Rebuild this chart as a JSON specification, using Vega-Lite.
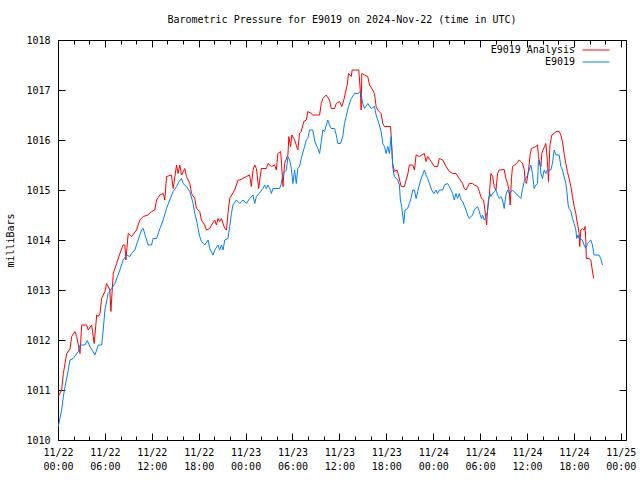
{
"$schema": "https://vega.github.io/schema/vega-lite/v6.json",
"width": 568, "height": 400,
"autosize": "none",
"padding": {"left": 58, "top": 40, "right": 14, "bottom": 40},
"background": "white",
"title": {"text": "Barometric Pressure for E9019 on 2024-Nov-22 (time in UTC)", "font": "DejaVu Sans Mono", "fontSize": 10, "fontWeight": "normal", "color": "black", "offset": 10, "anchor": "middle"},
"config": {
  "view": {"stroke": "black", "strokeWidth": 1},
  "font": "DejaVu Sans Mono",
  "axis": {"domain": false, "grid": false, "labelFont": "DejaVu Sans Mono", "labelFontSize": 10, "labelColor": "black", "tickColor": "black", "tickWidth": 1, "titleFont": "DejaVu Sans Mono", "titleFontSize": 10, "titleFontWeight": "normal", "titleColor": "black"}
},
"datasets": {
"analysis": [
{"t":"2024-11-22T00:02Z","p":1010.87},{"t":"2024-11-22T00:28Z","p":1011.0},{"t":"2024-11-22T00:41Z","p":1011.33},{"t":"2024-11-22T01:07Z","p":1011.73},{"t":"2024-11-22T01:32Z","p":1011.82},{"t":"2024-11-22T01:45Z","p":1012.07},{"t":"2024-11-22T02:10Z","p":1012.17},{"t":"2024-11-22T02:23Z","p":1012.07},{"t":"2024-11-22T02:49Z","p":1011.73},{"t":"2024-11-22T03:02Z","p":1012.3},{"t":"2024-11-22T03:40Z","p":1012.3},{"t":"2024-11-22T03:52Z","p":1012.2},{"t":"2024-11-22T04:18Z","p":1012.3},{"t":"2024-11-22T04:38Z","p":1011.93},{"t":"2024-11-22T04:57Z","p":1012.5},{"t":"2024-11-22T05:09Z","p":1012.47},{"t":"2024-11-22T05:22Z","p":1012.53},{"t":"2024-11-22T05:35Z","p":1012.83},{"t":"2024-11-22T06:00Z","p":1012.97},{"t":"2024-11-22T06:13Z","p":1013.13},{"t":"2024-11-22T06:38Z","p":1013.0},{"t":"2024-11-22T06:46Z","p":1012.57},{"t":"2024-11-22T07:04Z","p":1013.33},{"t":"2024-11-22T07:30Z","p":1013.53},{"t":"2024-11-22T07:55Z","p":1013.73},{"t":"2024-11-22T08:20Z","p":1013.9},{"t":"2024-11-22T08:33Z","p":1013.9},{"t":"2024-11-22T08:41Z","p":1013.6},{"t":"2024-11-22T08:59Z","p":1014.13},{"t":"2024-11-22T09:25Z","p":1014.07},{"t":"2024-11-22T10:03Z","p":1014.2},{"t":"2024-11-22T10:28Z","p":1014.4},{"t":"2024-11-22T10:54Z","p":1014.47},{"t":"2024-11-22T11:32Z","p":1014.5},{"t":"2024-11-22T11:58Z","p":1014.57},{"t":"2024-11-22T12:23Z","p":1014.6},{"t":"2024-11-22T12:36Z","p":1014.8},{"t":"2024-11-22T13:02Z","p":1014.9},{"t":"2024-11-22T13:27Z","p":1014.93},{"t":"2024-11-22T13:40Z","p":1014.8},{"t":"2024-11-22T13:53Z","p":1015.27},{"t":"2024-11-22T14:31Z","p":1015.3},{"t":"2024-11-22T14:44Z","p":1015.03},{"t":"2024-11-22T15:10Z","p":1015.5},{"t":"2024-11-22T15:22Z","p":1015.33},{"t":"2024-11-22T15:35Z","p":1015.5},{"t":"2024-11-22T15:48Z","p":1015.3},{"t":"2024-11-22T16:13Z","p":1015.43},{"t":"2024-11-22T16:26Z","p":1015.27},{"t":"2024-11-22T16:52Z","p":1015.13},{"t":"2024-11-22T17:05Z","p":1014.93},{"t":"2024-11-22T17:30Z","p":1014.83},{"t":"2024-11-22T17:43Z","p":1014.63},{"t":"2024-11-22T18:08Z","p":1014.57},{"t":"2024-11-22T18:21Z","p":1014.4},{"t":"2024-11-22T18:46Z","p":1014.3},{"t":"2024-11-22T18:59Z","p":1014.2},{"t":"2024-11-22T19:25Z","p":1014.23},{"t":"2024-11-22T19:38Z","p":1014.3},{"t":"2024-11-22T20:03Z","p":1014.4},{"t":"2024-11-22T20:16Z","p":1014.3},{"t":"2024-11-22T20:28Z","p":1014.43},{"t":"2024-11-22T20:41Z","p":1014.37},{"t":"2024-11-22T20:54Z","p":1014.43},{"t":"2024-11-22T21:20Z","p":1014.23},{"t":"2024-11-22T21:33Z","p":1014.2},{"t":"2024-11-22T21:45Z","p":1014.53},{"t":"2024-11-22T21:58Z","p":1014.83},{"t":"2024-11-22T22:36Z","p":1015.0},{"t":"2024-11-22T22:49Z","p":1015.1},{"t":"2024-11-22T23:02Z","p":1015.2},{"t":"2024-11-22T23:15Z","p":1015.2},
{"t":"2024-11-23T00:06Z","p":1015.27},{"t":"2024-11-23T00:31Z","p":1015.3},{"t":"2024-11-23T00:44Z","p":1015.07},{"t":"2024-11-23T00:57Z","p":1015.4},{"t":"2024-11-23T01:10Z","p":1015.5},{"t":"2024-11-23T01:23Z","p":1015.43},{"t":"2024-11-23T01:40Z","p":1015.03},{"t":"2024-11-23T02:01Z","p":1015.43},{"t":"2024-11-23T02:39Z","p":1015.43},{"t":"2024-11-23T02:52Z","p":1015.53},{"t":"2024-11-23T03:18Z","p":1015.47},{"t":"2024-11-23T03:43Z","p":1015.5},{"t":"2024-11-23T03:56Z","p":1015.4},{"t":"2024-11-23T04:08Z","p":1015.73},{"t":"2024-11-23T04:29Z","p":1015.77},{"t":"2024-11-23T04:34Z","p":1015.6},{"t":"2024-11-23T04:47Z","p":1015.07},{"t":"2024-11-23T04:59Z","p":1015.53},{"t":"2024-11-23T05:25Z","p":1015.7},{"t":"2024-11-23T05:32Z","p":1016.07},{"t":"2024-11-23T05:45Z","p":1015.87},{"t":"2024-11-23T05:55Z","p":1016.1},{"t":"2024-11-23T06:16Z","p":1016.0},{"t":"2024-11-23T06:41Z","p":1015.8},{"t":"2024-11-23T06:54Z","p":1016.13},{"t":"2024-11-23T07:07Z","p":1016.17},{"t":"2024-11-23T07:27Z","p":1016.37},{"t":"2024-11-23T07:46Z","p":1016.4},{"t":"2024-11-23T07:58Z","p":1016.57},{"t":"2024-11-23T08:24Z","p":1016.53},{"t":"2024-11-23T08:36Z","p":1016.5},{"t":"2024-11-23T09:28Z","p":1016.5},{"t":"2024-11-23T09:41Z","p":1016.73},{"t":"2024-11-23T09:53Z","p":1016.83},{"t":"2024-11-23T10:19Z","p":1016.9},{"t":"2024-11-23T10:44Z","p":1016.8},{"t":"2024-11-23T10:57Z","p":1016.63},{"t":"2024-11-23T11:23Z","p":1016.63},{"t":"2024-11-23T11:36Z","p":1016.73},{"t":"2024-11-23T12:01Z","p":1016.77},{"t":"2024-11-23T12:19Z","p":1016.67},{"t":"2024-11-23T12:34Z","p":1016.8},{"t":"2024-11-23T12:45Z","p":1016.93},{"t":"2024-11-23T13:00Z","p":1017.1},{"t":"2024-11-23T13:10Z","p":1017.33},{"t":"2024-11-23T13:31Z","p":1017.27},{"t":"2024-11-23T13:38Z","p":1017.4},{"t":"2024-11-23T14:29Z","p":1017.4},{"t":"2024-11-23T14:42Z","p":1016.93},{"t":"2024-11-23T14:47Z","p":1016.6},{"t":"2024-11-23T14:52Z","p":1017.33},{"t":"2024-11-23T15:13Z","p":1017.3},{"t":"2024-11-23T15:38Z","p":1017.27},{"t":"2024-11-23T15:51Z","p":1017.1},{"t":"2024-11-23T16:16Z","p":1017.0},{"t":"2024-11-23T16:29Z","p":1016.93},{"t":"2024-11-23T16:42Z","p":1016.67},{"t":"2024-11-23T16:54Z","p":1016.6},{"t":"2024-11-23T17:20Z","p":1016.53},{"t":"2024-11-23T17:33Z","p":1016.33},{"t":"2024-11-23T17:46Z","p":1016.27},{"t":"2024-11-23T18:32Z","p":1016.27},{"t":"2024-11-23T18:37Z","p":1016.1},{"t":"2024-11-23T18:49Z","p":1015.53},{"t":"2024-11-23T19:02Z","p":1015.37},{"t":"2024-11-23T19:23Z","p":1015.4},{"t":"2024-11-23T19:33Z","p":1015.3},{"t":"2024-11-23T19:54Z","p":1015.07},{"t":"2024-11-23T20:19Z","p":1015.07},{"t":"2024-11-23T20:32Z","p":1015.2},{"t":"2024-11-23T20:44Z","p":1015.3},{"t":"2024-11-23T20:57Z","p":1015.5},{"t":"2024-11-23T21:23Z","p":1015.5},{"t":"2024-11-23T21:36Z","p":1015.4},{"t":"2024-11-23T21:49Z","p":1015.7},{"t":"2024-11-23T22:14Z","p":1015.67},{"t":"2024-11-23T22:52Z","p":1015.73},{"t":"2024-11-23T23:05Z","p":1015.57},{"t":"2024-11-23T23:18Z","p":1015.67},{"t":"2024-11-23T23:44Z","p":1015.57},
{"t":"2024-11-24T00:09Z","p":1015.47},{"t":"2024-11-24T00:34Z","p":1015.47},{"t":"2024-11-24T00:47Z","p":1015.63},{"t":"2024-11-24T01:13Z","p":1015.6},{"t":"2024-11-24T01:39Z","p":1015.47},{"t":"2024-11-24T02:04Z","p":1015.37},{"t":"2024-11-24T02:29Z","p":1015.33},{"t":"2024-11-24T02:55Z","p":1015.33},{"t":"2024-11-24T03:20Z","p":1015.23},{"t":"2024-11-24T03:46Z","p":1015.13},{"t":"2024-11-24T03:59Z","p":1015.03},{"t":"2024-11-24T04:12Z","p":1015.0},{"t":"2024-11-24T04:37Z","p":1015.13},{"t":"2024-11-24T05:02Z","p":1015.13},{"t":"2024-11-24T05:15Z","p":1015.1},{"t":"2024-11-24T05:41Z","p":1015.07},{"t":"2024-11-24T05:54Z","p":1014.97},{"t":"2024-11-24T06:11Z","p":1014.83},{"t":"2024-11-24T06:27Z","p":1014.8},{"t":"2024-11-24T06:37Z","p":1014.6},{"t":"2024-11-24T06:50Z","p":1014.3},{"t":"2024-11-24T06:57Z","p":1014.6},{"t":"2024-11-24T07:10Z","p":1014.87},{"t":"2024-11-24T07:23Z","p":1015.33},{"t":"2024-11-24T07:36Z","p":1015.27},{"t":"2024-11-24T07:49Z","p":1015.07},{"t":"2024-11-24T08:02Z","p":1015.0},{"t":"2024-11-24T08:14Z","p":1015.33},{"t":"2024-11-24T08:27Z","p":1015.4},{"t":"2024-11-24T09:05Z","p":1015.41},{"t":"2024-11-24T09:18Z","p":1015.23},{"t":"2024-11-24T09:31Z","p":1015.13},{"t":"2024-11-24T09:44Z","p":1014.97},{"t":"2024-11-24T09:51Z","p":1014.7},{"t":"2024-11-24T10:01Z","p":1015.23},{"t":"2024-11-24T10:09Z","p":1015.47},{"t":"2024-11-24T10:40Z","p":1015.53},{"t":"2024-11-24T11:00Z","p":1015.6},{"t":"2024-11-24T11:13Z","p":1015.57},{"t":"2024-11-24T11:26Z","p":1015.53},{"t":"2024-11-24T11:39Z","p":1015.4},{"t":"2024-11-24T11:46Z","p":1015.17},{"t":"2024-11-24T11:56Z","p":1015.13},{"t":"2024-11-24T12:12Z","p":1015.4},{"t":"2024-11-24T12:25Z","p":1015.73},{"t":"2024-11-24T12:35Z","p":1015.83},{"t":"2024-11-24T13:08Z","p":1015.87},{"t":"2024-11-24T13:21Z","p":1015.9},{"t":"2024-11-24T13:28Z","p":1015.67},{"t":"2024-11-24T13:39Z","p":1015.5},{"t":"2024-11-24T13:47Z","p":1015.47},{"t":"2024-11-24T13:54Z","p":1015.73},{"t":"2024-11-24T14:04Z","p":1015.8},{"t":"2024-11-24T14:25Z","p":1015.93},{"t":"2024-11-24T14:37Z","p":1015.57},{"t":"2024-11-24T14:45Z","p":1015.17},{"t":"2024-11-24T14:56Z","p":1015.9},{"t":"2024-11-24T15:03Z","p":1016.0},{"t":"2024-11-24T15:11Z","p":1016.1},{"t":"2024-11-24T15:29Z","p":1016.13},{"t":"2024-11-24T15:42Z","p":1016.17},{"t":"2024-11-24T16:07Z","p":1016.17},{"t":"2024-11-24T16:20Z","p":1016.1},{"t":"2024-11-24T16:32Z","p":1015.97},{"t":"2024-11-24T16:45Z","p":1015.73},{"t":"2024-11-24T16:58Z","p":1015.53},{"t":"2024-11-24T17:10Z","p":1015.37},{"t":"2024-11-24T17:23Z","p":1015.23},{"t":"2024-11-24T17:37Z","p":1015.07},{"t":"2024-11-24T17:49Z","p":1014.87},{"t":"2024-11-24T18:02Z","p":1014.67},{"t":"2024-11-24T18:15Z","p":1014.53},{"t":"2024-11-24T18:22Z","p":1014.4},{"t":"2024-11-24T18:32Z","p":1014.27},{"t":"2024-11-24T18:40Z","p":1014.13},{"t":"2024-11-24T18:45Z","p":1013.87},{"t":"2024-11-24T18:53Z","p":1014.2},{"t":"2024-11-24T19:05Z","p":1014.23},{"t":"2024-11-24T19:18Z","p":1014.2},{"t":"2024-11-24T19:26Z","p":1014.27},{"t":"2024-11-24T19:31Z","p":1014.0},{"t":"2024-11-24T19:36Z","p":1013.63},{"t":"2024-11-24T19:57Z","p":1013.63},{"t":"2024-11-24T20:10Z","p":1013.6},{"t":"2024-11-24T20:17Z","p":1013.47},{"t":"2024-11-24T20:27Z","p":1013.3},{"t":"2024-11-24T20:33Z","p":1013.23}
],
"obs": [
{"t":"2024-11-22T00:02Z","p":1010.27},{"t":"2024-11-22T00:28Z","p":1010.6},{"t":"2024-11-22T00:41Z","p":1010.87},{"t":"2024-11-22T00:54Z","p":1011.07},{"t":"2024-11-22T01:19Z","p":1011.4},{"t":"2024-11-22T01:32Z","p":1011.6},{"t":"2024-11-22T01:57Z","p":1011.63},{"t":"2024-11-22T02:10Z","p":1011.68},{"t":"2024-11-22T02:36Z","p":1011.77},{"t":"2024-11-22T02:49Z","p":1011.9},{"t":"2024-11-22T03:27Z","p":1011.9},{"t":"2024-11-22T03:45Z","p":1011.99},{"t":"2024-11-22T04:05Z","p":1011.87},{"t":"2024-11-22T04:44Z","p":1011.7},{"t":"2024-11-22T05:09Z","p":1011.9},{"t":"2024-11-22T05:35Z","p":1011.9},{"t":"2024-11-22T05:47Z","p":1012.2},{"t":"2024-11-22T06:00Z","p":1012.6},{"t":"2024-11-22T06:25Z","p":1012.93},{"t":"2024-11-22T06:51Z","p":1013.03},{"t":"2024-11-22T07:17Z","p":1013.13},{"t":"2024-11-22T07:55Z","p":1013.4},{"t":"2024-11-22T08:20Z","p":1013.6},{"t":"2024-11-22T08:46Z","p":1013.7},{"t":"2024-11-22T09:12Z","p":1013.67},{"t":"2024-11-22T09:25Z","p":1013.73},{"t":"2024-11-22T09:50Z","p":1013.8},{"t":"2024-11-22T10:11Z","p":1013.97},{"t":"2024-11-22T10:41Z","p":1014.2},{"t":"2024-11-22T10:54Z","p":1014.23},{"t":"2024-11-22T11:20Z","p":1014.0},{"t":"2024-11-22T11:32Z","p":1013.9},{"t":"2024-11-22T11:58Z","p":1013.9},{"t":"2024-11-22T12:10Z","p":1014.03},{"t":"2024-11-22T12:36Z","p":1014.03},{"t":"2024-11-22T13:02Z","p":1014.23},{"t":"2024-11-22T13:27Z","p":1014.4},{"t":"2024-11-22T13:53Z","p":1014.63},{"t":"2024-11-22T14:18Z","p":1014.8},{"t":"2024-11-22T14:44Z","p":1014.97},{"t":"2024-11-22T15:10Z","p":1015.07},{"t":"2024-11-22T15:30Z","p":1015.17},{"t":"2024-11-22T15:48Z","p":1015.23},{"t":"2024-11-22T16:00Z","p":1015.13},{"t":"2024-11-22T16:26Z","p":1015.07},{"t":"2024-11-22T16:52Z","p":1014.97},{"t":"2024-11-22T17:17Z","p":1014.73},{"t":"2024-11-22T17:30Z","p":1014.53},{"t":"2024-11-22T17:43Z","p":1014.4},{"t":"2024-11-22T17:55Z","p":1014.23},{"t":"2024-11-22T18:08Z","p":1014.07},{"t":"2024-11-22T18:21Z","p":1013.97},{"t":"2024-11-22T18:46Z","p":1013.9},{"t":"2024-11-22T19:12Z","p":1014.0},{"t":"2024-11-22T19:25Z","p":1013.83},{"t":"2024-11-22T19:50Z","p":1013.7},{"t":"2024-11-22T20:03Z","p":1013.8},{"t":"2024-11-22T20:28Z","p":1013.9},{"t":"2024-11-22T20:41Z","p":1013.8},{"t":"2024-11-22T20:54Z","p":1013.9},{"t":"2024-11-22T21:07Z","p":1013.8},{"t":"2024-11-22T21:20Z","p":1014.0},{"t":"2024-11-22T21:45Z","p":1014.03},{"t":"2024-11-22T21:58Z","p":1014.27},{"t":"2024-11-22T22:11Z","p":1014.53},{"t":"2024-11-22T22:23Z","p":1014.7},{"t":"2024-11-22T22:49Z","p":1014.8},{"t":"2024-11-22T23:15Z","p":1014.73},{"t":"2024-11-22T23:40Z","p":1014.8},
{"t":"2024-11-23T00:06Z","p":1014.73},{"t":"2024-11-23T00:31Z","p":1014.83},{"t":"2024-11-23T00:57Z","p":1014.9},{"t":"2024-11-23T01:10Z","p":1014.73},{"t":"2024-11-23T01:23Z","p":1014.87},{"t":"2024-11-23T01:43Z","p":1014.93},{"t":"2024-11-23T02:13Z","p":1015.03},{"t":"2024-11-23T02:26Z","p":1015.1},{"t":"2024-11-23T02:39Z","p":1015.03},{"t":"2024-11-23T02:52Z","p":1015.1},{"t":"2024-11-23T03:05Z","p":1015.03},{"t":"2024-11-23T03:18Z","p":1014.93},{"t":"2024-11-23T03:30Z","p":1015.03},{"t":"2024-11-23T04:21Z","p":1015.03},{"t":"2024-11-23T04:34Z","p":1015.13},{"t":"2024-11-23T04:47Z","p":1015.33},{"t":"2024-11-23T05:13Z","p":1015.4},{"t":"2024-11-23T05:25Z","p":1015.67},{"t":"2024-11-23T05:38Z","p":1015.6},{"t":"2024-11-23T05:51Z","p":1015.43},{"t":"2024-11-23T06:03Z","p":1015.13},{"t":"2024-11-23T06:16Z","p":1015.4},{"t":"2024-11-23T06:29Z","p":1015.13},{"t":"2024-11-23T06:41Z","p":1015.43},{"t":"2024-11-23T06:54Z","p":1015.47},{"t":"2024-11-23T07:07Z","p":1015.63},{"t":"2024-11-23T07:33Z","p":1015.87},{"t":"2024-11-23T07:46Z","p":1016.0},{"t":"2024-11-23T07:58Z","p":1016.03},{"t":"2024-11-23T08:11Z","p":1016.2},{"t":"2024-11-23T08:36Z","p":1016.2},{"t":"2024-11-23T08:49Z","p":1016.0},{"t":"2024-11-23T09:02Z","p":1015.9},{"t":"2024-11-23T09:15Z","p":1015.83},{"t":"2024-11-23T09:28Z","p":1015.73},{"t":"2024-11-23T09:41Z","p":1015.97},{"t":"2024-11-23T09:53Z","p":1016.2},{"t":"2024-11-23T10:06Z","p":1016.17},{"t":"2024-11-23T10:31Z","p":1016.4},{"t":"2024-11-23T10:44Z","p":1016.3},{"t":"2024-11-23T10:57Z","p":1016.23},{"t":"2024-11-23T11:23Z","p":1016.23},{"t":"2024-11-23T11:36Z","p":1016.1},{"t":"2024-11-23T11:48Z","p":1015.93},{"t":"2024-11-23T12:09Z","p":1015.93},{"t":"2024-11-23T12:26Z","p":1016.07},{"t":"2024-11-23T12:39Z","p":1016.33},{"t":"2024-11-23T12:52Z","p":1016.47},{"t":"2024-11-23T13:10Z","p":1016.67},{"t":"2024-11-23T13:31Z","p":1016.83},{"t":"2024-11-23T13:56Z","p":1016.93},{"t":"2024-11-23T14:21Z","p":1016.93},{"t":"2024-11-23T14:42Z","p":1016.97},{"t":"2024-11-23T14:59Z","p":1016.73},{"t":"2024-11-23T15:13Z","p":1016.63},{"t":"2024-11-23T15:38Z","p":1016.73},{"t":"2024-11-23T16:04Z","p":1016.63},{"t":"2024-11-23T16:29Z","p":1016.67},{"t":"2024-11-23T16:42Z","p":1016.5},{"t":"2024-11-23T17:07Z","p":1016.3},{"t":"2024-11-23T17:20Z","p":1016.17},{"t":"2024-11-23T17:33Z","p":1015.93},{"t":"2024-11-23T17:46Z","p":1015.87},{"t":"2024-11-23T17:59Z","p":1015.73},{"t":"2024-11-23T18:11Z","p":1015.87},{"t":"2024-11-23T18:24Z","p":1015.73},{"t":"2024-11-23T18:37Z","p":1016.07},{"t":"2024-11-23T18:49Z","p":1015.47},{"t":"2024-11-23T19:02Z","p":1015.27},{"t":"2024-11-23T19:28Z","p":1015.2},{"t":"2024-11-23T19:41Z","p":1015.1},{"t":"2024-11-23T19:48Z","p":1014.8},{"t":"2024-11-23T19:58Z","p":1014.67},{"t":"2024-11-23T20:14Z","p":1014.33},{"t":"2024-11-23T20:24Z","p":1014.6},{"t":"2024-11-23T20:44Z","p":1014.63},{"t":"2024-11-23T20:57Z","p":1014.73},{"t":"2024-11-23T21:10Z","p":1014.83},{"t":"2024-11-23T21:23Z","p":1015.0},{"t":"2024-11-23T21:36Z","p":1015.0},{"t":"2024-11-23T21:49Z","p":1014.83},{"t":"2024-11-23T22:01Z","p":1014.97},{"t":"2024-11-23T22:14Z","p":1015.1},{"t":"2024-11-23T22:27Z","p":1015.23},{"t":"2024-11-23T22:39Z","p":1015.3},{"t":"2024-11-23T22:52Z","p":1015.4},{"t":"2024-11-23T23:05Z","p":1015.3},{"t":"2024-11-23T23:18Z","p":1015.23},{"t":"2024-11-23T23:31Z","p":1015.13},{"t":"2024-11-23T23:48Z","p":1015.0},
{"t":"2024-11-24T00:04Z","p":1014.93},{"t":"2024-11-24T00:22Z","p":1015.0},{"t":"2024-11-24T00:34Z","p":1014.93},{"t":"2024-11-24T00:47Z","p":1015.0},{"t":"2024-11-24T01:13Z","p":1015.0},{"t":"2024-11-24T01:26Z","p":1015.1},{"t":"2024-11-24T01:51Z","p":1015.13},{"t":"2024-11-24T02:04Z","p":1015.07},{"t":"2024-11-24T02:17Z","p":1015.0},{"t":"2024-11-24T02:29Z","p":1014.93},{"t":"2024-11-24T02:42Z","p":1014.8},{"t":"2024-11-24T02:55Z","p":1014.93},{"t":"2024-11-24T03:07Z","p":1014.83},{"t":"2024-11-24T03:20Z","p":1014.93},{"t":"2024-11-24T03:34Z","p":1014.8},{"t":"2024-11-24T03:46Z","p":1014.77},{"t":"2024-11-24T04:12Z","p":1014.6},{"t":"2024-11-24T04:24Z","p":1014.5},{"t":"2024-11-24T04:37Z","p":1014.43},{"t":"2024-11-24T05:02Z","p":1014.5},{"t":"2024-11-24T05:15Z","p":1014.6},{"t":"2024-11-24T05:41Z","p":1014.67},{"t":"2024-11-24T05:54Z","p":1014.57},{"t":"2024-11-24T06:01Z","p":1014.5},{"t":"2024-11-24T06:11Z","p":1014.43},{"t":"2024-11-24T06:19Z","p":1014.5},{"t":"2024-11-24T06:32Z","p":1014.4},{"t":"2024-11-24T06:45Z","p":1014.47},{"t":"2024-11-24T06:57Z","p":1014.57},{"t":"2024-11-24T07:05Z","p":1014.83},{"t":"2024-11-24T07:16Z","p":1014.93},{"t":"2024-11-24T07:23Z","p":1014.87},{"t":"2024-11-24T07:36Z","p":1014.93},{"t":"2024-11-24T08:02Z","p":1015.0},{"t":"2024-11-24T08:14Z","p":1014.9},{"t":"2024-11-24T08:27Z","p":1014.83},{"t":"2024-11-24T08:40Z","p":1014.87},{"t":"2024-11-24T08:52Z","p":1014.8},{"t":"2024-11-24T09:05Z","p":1014.63},{"t":"2024-11-24T09:18Z","p":1014.9},{"t":"2024-11-24T09:31Z","p":1015.0},{"t":"2024-11-24T09:44Z","p":1014.93},{"t":"2024-11-24T10:09Z","p":1015.0},{"t":"2024-11-24T10:47Z","p":1014.9},{"t":"2024-11-24T11:13Z","p":1014.83},{"t":"2024-11-24T11:26Z","p":1015.03},{"t":"2024-11-24T11:39Z","p":1015.17},{"t":"2024-11-24T12:04Z","p":1015.3},{"t":"2024-11-24T12:17Z","p":1015.4},{"t":"2024-11-24T12:30Z","p":1015.5},{"t":"2024-11-24T12:42Z","p":1015.33},{"t":"2024-11-24T12:55Z","p":1015.03},{"t":"2024-11-24T13:08Z","p":1015.1},{"t":"2024-11-24T13:21Z","p":1015.13},{"t":"2024-11-24T13:28Z","p":1015.6},{"t":"2024-11-24T13:39Z","p":1015.57},{"t":"2024-11-24T13:47Z","p":1015.33},{"t":"2024-11-24T13:59Z","p":1015.23},{"t":"2024-11-24T14:12Z","p":1015.4},{"t":"2024-11-24T14:25Z","p":1015.33},{"t":"2024-11-24T14:37Z","p":1015.4},{"t":"2024-11-24T15:03Z","p":1015.4},{"t":"2024-11-24T15:15Z","p":1015.53},{"t":"2024-11-24T15:29Z","p":1015.8},{"t":"2024-11-24T15:42Z","p":1015.7},{"t":"2024-11-24T16:07Z","p":1015.7},{"t":"2024-11-24T16:20Z","p":1015.47},{"t":"2024-11-24T16:32Z","p":1015.4},{"t":"2024-11-24T16:45Z","p":1015.27},{"t":"2024-11-24T16:58Z","p":1015.13},{"t":"2024-11-24T17:06Z","p":1014.97},{"t":"2024-11-24T17:16Z","p":1014.7},{"t":"2024-11-24T17:23Z","p":1014.63},{"t":"2024-11-24T17:37Z","p":1014.57},{"t":"2024-11-24T17:49Z","p":1014.43},{"t":"2024-11-24T18:02Z","p":1014.33},{"t":"2024-11-24T18:15Z","p":1014.2},{"t":"2024-11-24T18:22Z","p":1014.03},{"t":"2024-11-24T18:32Z","p":1014.1},{"t":"2024-11-24T18:40Z","p":1014.03},{"t":"2024-11-24T19:05Z","p":1014.0},{"t":"2024-11-24T19:18Z","p":1013.9},{"t":"2024-11-24T19:31Z","p":1013.83},{"t":"2024-11-24T19:44Z","p":1013.93},{"t":"2024-11-24T19:57Z","p":1013.97},{"t":"2024-11-24T20:10Z","p":1014.0},{"t":"2024-11-24T20:22Z","p":1013.9},{"t":"2024-11-24T20:35Z","p":1013.7},{"t":"2024-11-24T21:13Z","p":1013.7},{"t":"2024-11-24T21:26Z","p":1013.63},{"t":"2024-11-24T21:39Z","p":1013.5}
]
},
"layer": [
{
  "data": {"name": "analysis"},
  "mark": {"type": "line", "strokeWidth": 1, "interpolate": "linear"},
  "encoding": {
    "x": {"field": "t", "type": "temporal",
      "scale": {"type": "utc", "domain": [1732233600000, 1732495200000], "nice": false},
      "axis": {"orient": "bottom", "title": null, "values": [1732233600000, 1732240800000, 1732248000000, 1732255200000, 1732262400000, 1732269600000, 1732276800000, 1732284000000, 1732291200000, 1732298400000, 1732305600000, 1732312800000, 1732320000000, 1732327200000, 1732334400000, 1732341600000, 1732348800000, 1732356000000, 1732363200000, 1732370400000, 1732377600000, 1732384800000, 1732392000000, 1732399200000, 1732406400000, 1732413600000, 1732420800000, 1732428000000, 1732435200000, 1732442400000, 1732449600000, 1732456800000, 1732464000000, 1732471200000, 1732478400000, 1732485600000, 1732492800000],
        "tickSize": {"condition": {"test": "utchours(datum.value) % 6 == 0", "value": -7}, "value": -4},
        "labelExpr": "utchours(datum.value) % 6 == 0 ? [utcFormat(datum.value, '%m/%d'), utcFormat(datum.value, '%H:%M')] : ''", "labelOverlap": false, "labelPadding": 14, "labelBaseline": "top", "labelLineHeight": 14, "labelFlush": false}},
    "y": {"field": "p", "type": "quantitative",
      "scale": {"domain": [1010, 1018], "nice": false, "zero": false},
      "axis": {"orient": "left", "title": "milliBars", "values": [1010, 1011, 1012, 1013, 1014, 1015, 1016, 1017, 1018], "format": "d", "tickSize": -7, "labelPadding": 15, "titlePadding": 10}},
    "color": {"datum": "E9019 Analysis", "type": "nominal",
      "scale": {"domain": ["E9019 Analysis", "E9019"], "range": ["#ff0000", "#0080ff"]},
      "legend": {"title": null, "orient": "none", "legendX": 533, "legendY": 5, "symbolType": "M-3,0H3", "symbolSize": 81, "symbolStrokeWidth": 1, "labelAlign": "right", "labelOffset": -26, "labelFont": "DejaVu Sans Mono", "labelFontSize": 10, "labelColor": "black", "padding": 0, "rowPadding": 2}}
  }
},
{
  "data": {"name": "obs"},
  "mark": {"type": "line", "strokeWidth": 1, "interpolate": "linear"},
  "encoding": {
    "x": {"field": "t", "type": "temporal",
      "axis": {"orient": "top", "title": null, "labels": false, "values": [1732233600000, 1732240800000, 1732248000000, 1732255200000, 1732262400000, 1732269600000, 1732276800000, 1732284000000, 1732291200000, 1732298400000, 1732305600000, 1732312800000, 1732320000000, 1732327200000, 1732334400000, 1732341600000, 1732348800000, 1732356000000, 1732363200000, 1732370400000, 1732377600000, 1732384800000, 1732392000000, 1732399200000, 1732406400000, 1732413600000, 1732420800000, 1732428000000, 1732435200000, 1732442400000, 1732449600000, 1732456800000, 1732464000000, 1732471200000, 1732478400000, 1732485600000, 1732492800000],
        "tickSize": {"condition": {"test": "utchours(datum.value) % 6 == 0", "value": -7}, "value": -4}}},
    "y": {"field": "p", "type": "quantitative",
      "axis": {"orient": "right", "title": null, "labels": false, "values": [1010, 1011, 1012, 1013, 1014, 1015, 1016, 1017, 1018], "tickSize": -7}},
    "color": {"datum": "E9019", "type": "nominal"}
  }
}
]
}
